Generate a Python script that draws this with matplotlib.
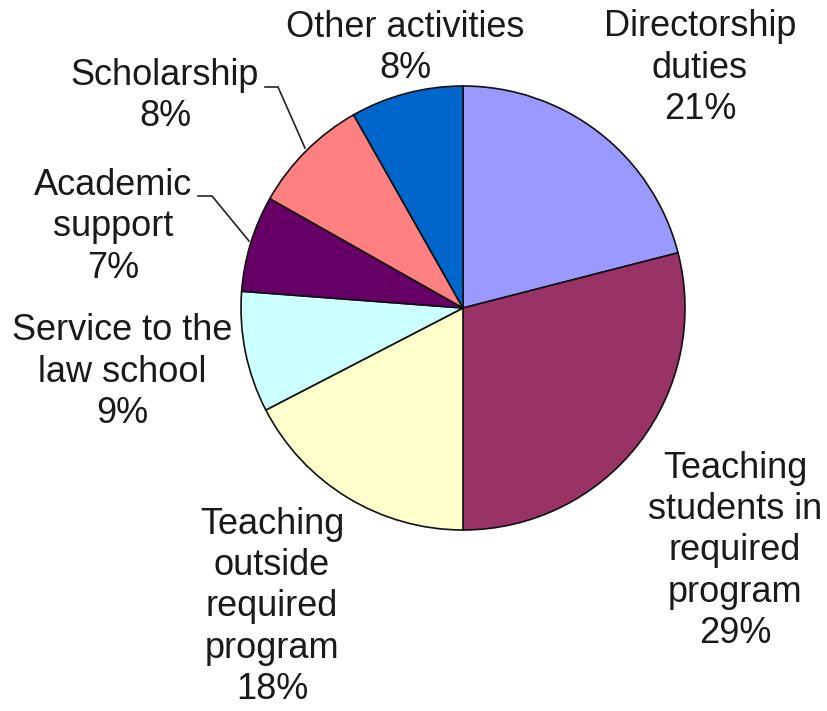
import matplotlib
matplotlib.use("Agg")
import matplotlib.pyplot as plt

categories = ["Directorship\nduties", "Teaching\nstudents in\nrequired\nprogram",
              "Teaching\noutside\nrequired\nprogram", "Service to the\nlaw school",
              "Academic\nsupport", "Scholarship", "Other activities"]
values = [21.0, 29.0, 17.4, 8.8, 7.0, 8.6, 8.2]
# percentages as printed in the labels
pct_labels = ["21%", "29%", "18%", "9%", "7%", "8%", "8%"]
colors = ["#9999FF", "#993366", "#FFFFCC", "#CCFFFF", "#660066", "#FF8080", "#0066CC"]

W, H = 828, 711
fig = plt.figure(figsize=(W / 100, H / 100), dpi=100)
ax = fig.add_axes([0, 0, 1, 1])

cx, cy, r = 463, 308, 222
wedges, _ = ax.pie(values, colors=colors, startangle=-90, counterclock=True,
                   center=(cx, cy), radius=r, frame=True,
                   wedgeprops=dict(edgecolor="#111111", linewidth=1.2))
ax.set_xlim(0, W)
ax.set_ylim(H, 0)
ax.set_aspect("equal")
ax.axis("off")

label_pos = [(700, 68), (735, 551), (272, 607), (122, 372), (113, 227), (165, 96), (405, 48)]
font = dict(family=["Liberation Sans", "DejaVu Sans"], fontsize=26, color="#1a1a1a",
            ha="center", va="center", linespacing=1.24)
for cat, p, (x, y) in zip(categories, pct_labels, label_pos):
    ax.text(x, y, f"{cat}\n{p}", **font)

# leader lines
ax.plot([265, 278, 305], [87, 87, 148], color="#222222", lw=1.2)
ax.plot([198, 212, 249], [196, 196, 241], color="#222222", lw=1.2)

fig.savefig("out.png", dpi=100)
